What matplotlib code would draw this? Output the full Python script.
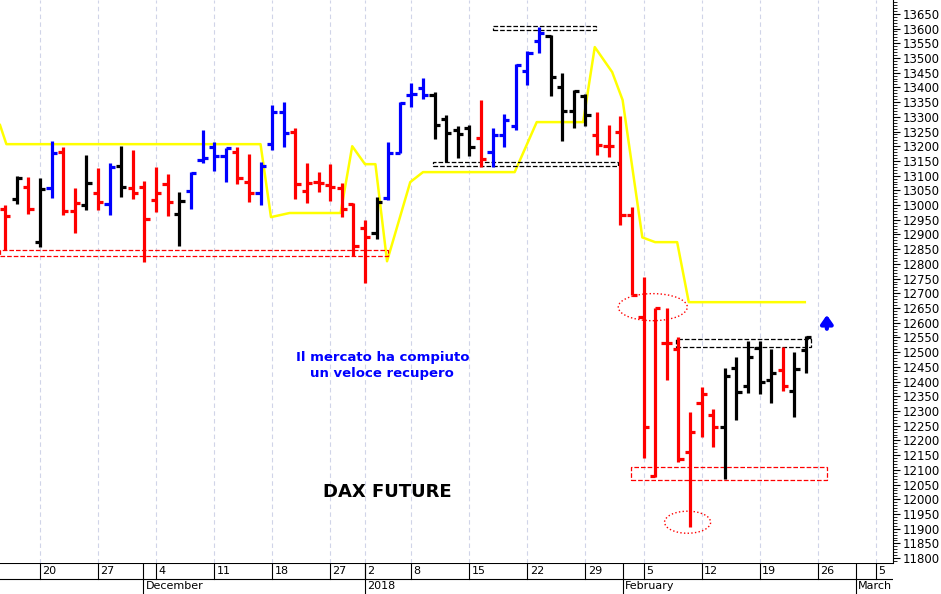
import matplotlib.pyplot as plt
from matplotlib.patches import Rectangle, Ellipse
from matplotlib.ticker import MultipleLocator

# OHLC data, one bar per trading day; index 0 = 20 Nov 2017
start_idx = -3
opens = [12986, 13020, 13061, 12874, 13058, 13180, 12979, 13000, 13041, 13003,
         13132, 13058, 13061, 13017, 13071, 12969, 13047, 13153, 13197, 13166,
         13180, 13078, 13041, 13207, 13316, 13248, 13047, 13078, 13068, 13058,
         13003, 12922, 12904, 13024, 13176, 13374, 13398, 13374, 13292, 13255,
         13262, 13228, 13180, 13238, 13268, 13456, 13558, 13575, 13401, 13319,
         13370, 13238, 13200, 13248, 12966, 12619, 12078, 12531, 12510, 12160,
         12326, 12286, 12245, 12446, 12384, 12514, 12405, 12439, 12367, 12507]
highs = [13000, 13098, 13095, 13092, 13217, 13197, 13058, 13170, 13125, 13142,
         13200, 13187, 13081, 13129, 13105, 13044, 13112, 13255, 13214, 13193,
         13197, 13173, 13146, 13340, 13350, 13262, 13142, 13112, 13139, 13075,
         13006, 12949, 13027, 13214, 13350, 13415, 13432, 13384, 13306, 13268,
         13272, 13357, 13262, 13309, 13480, 13524, 13605, 13578, 13449, 13391,
         13377, 13316, 13272, 13302, 12993, 12755, 12649, 12649, 12551, 12296,
         12381, 12306, 12446, 12483, 12537, 12537, 12510, 12517, 12500, 12554]
lows = [12847, 13003, 12969, 12857, 13024, 12966, 12904, 12983, 12983, 12966,
        13027, 13020, 12807, 12976, 12962, 12860, 12986, 13142, 13115, 13078,
        13071, 13010, 13000, 13187, 13197, 13020, 13006, 13044, 13013, 12959,
        12826, 12734, 12884, 13017, 13176, 13333, 13360, 13224, 13146, 13159,
        13166, 13129, 13129, 13197, 13255, 13408, 13517, 13370, 13217, 13262,
        13268, 13170, 13163, 12932, 12694, 12140, 12075, 12405, 12126, 11905,
        12211, 12177, 12068, 12269, 12360, 12357, 12326, 12367, 12279, 12429]
closes = [12962, 13092, 12986, 13054, 13176, 12979, 13007, 13075, 13010, 13129,
          13061, 13041, 12952, 13041, 13010, 13013, 13108, 13160, 13166, 13193,
          13092, 13041, 13132, 13316, 13245, 13071, 13075, 13075, 13061, 12986,
          12860, 12891, 13010, 13176, 13347, 13378, 13374, 13272, 13245, 13241,
          13197, 13156, 13238, 13289, 13476, 13517, 13584, 13435, 13319, 13387,
          13306, 13204, 13200, 12966, 12694, 12245, 12649, 12531, 12136, 12228,
          12357, 12245, 12418, 12364, 12483, 12398, 12429, 12384, 12442, 12551]
colors = "rkrkbrrkrbkrrrrkbbbbrrbbbrrrrrrrkbbbbkkkkrbbbbbkkkkrrrrrrrrrrrkkkkkrkk"

# yellow stop line
stop_x = [-3.45, -2.9, 19.0, 19.9, 21.5, 25.9, 26.9, 28.0, 28.9, 29.9, 31.9, 33.0,
          40.9, 42.8, 46.8, 47.8, 49.3, 50.2, 51.9, 53.0, 54.9, 55.9, 65.9]
stop_y = [13272, 13207, 13207, 12959, 12973, 12973, 13200, 13139, 13139, 12809,
          13078, 13112, 13112, 13282, 13282, 13537, 13452, 13357, 12890, 12874,
          12874, 12670, 12670]

week_idx = [0, 5, 10, 15, 20, 25, 28, 32, 37, 42, 47, 52, 57, 62, 67, 72]
week_lbl = ["20", "27", "4", "11", "18", "27", "2", "8", "15", "22", "29",
            "5", "12", "19", "26", "5"]
month_idx = [8.9, 28, 50.2, 70.3]
month_lbl = ["December", "2018", "February", "March"]

cmap = {"r": "#ff0000", "k": "#000000", "b": "#0000ff"}

fig = plt.figure(figsize=(9.41, 5.94), dpi=100)
ax = fig.add_axes([0, 0.052, 0.949, 0.948])
ax.set_xlim(-3.45, 73.5)
ax.set_ylim(11783, 13697)

for x in week_idx:
    ax.axvline(x, color="#d0d4e8", lw=0.8, ls=(0, (4, 3)), zorder=0)

for i in range(len(opens)):
    x = start_idx + i
    c = cmap[colors[i]]
    ax.plot([x, x], [lows[i], highs[i]], color=c, lw=2.3, solid_capstyle="butt")
    ax.plot([x - 0.45, x], [opens[i], opens[i]], color=c, lw=2.3, solid_capstyle="butt")
    ax.plot([x, x + 0.45], [closes[i], closes[i]], color=c, lw=2.3, solid_capstyle="butt")

ax.plot(stop_x, stop_y, color="#ffff00", lw=1.8, zorder=1)

# dashed boxes and circles
ax.add_patch(Rectangle((-3.45, 12826), 33.45, 21, fill=False, ec="red", ls="--", lw=0.9))
ax.add_patch(Rectangle((39.0, 13596), 8.9, 14, fill=False, ec="black", ls="--", lw=0.9))
ax.add_patch(Rectangle((33.9, 13132), 15.9, 14, fill=False, ec="black", ls="--", lw=0.9))
ax.add_patch(Rectangle((54.8, 12517), 11.6, 27, fill=False, ec="black", ls="--", lw=0.9))
ax.add_patch(Rectangle((50.9, 12064), 16.9, 44, fill=False, ec="red", ls="--", lw=0.9))
ax.add_patch(Ellipse((52.8, 12653), 5.95, 92, fill=False, ec="red", ls=":", lw=1.0))
ax.add_patch(Ellipse((55.8, 11922), 3.97, 75, fill=False, ec="red", ls=":", lw=1.0))
ax.annotate("", xy=(67.8, 12636), xytext=(67.8, 12570),
            arrowprops=dict(arrowstyle="-|>,head_width=0.35,head_length=0.5",
                            color="#0000ff", lw=3))

ax.text(29.5, 12482, "Il mercato ha compiuto", color="#0000ff", fontsize=9.5,
        fontweight="bold", ha="center", va="center")
ax.text(29.5, 12428, "un veloce recupero", color="#0000ff", fontsize=9.5,
        fontweight="bold", ha="center", va="center")
ax.text(29.9, 12024, "DAX FUTURE", color="black", fontsize=13,
        fontweight="bold", ha="center", va="center")

ax.yaxis.tick_right()
ax.yaxis.set_major_locator(MultipleLocator(50))
ax.yaxis.set_minor_locator(MultipleLocator(10))
ax.tick_params(axis="y", which="major", length=5, labelsize=8.5, pad=2)
ax.tick_params(axis="y", which="minor", length=3)
ax.set_xticks([])
for s in ["top", "left", "bottom"]:
    ax.spines[s].set_visible(False)

# date strip
ax2 = fig.add_axes([0, 0, 0.949, 0.052])
ax2.set_xlim(ax.get_xlim())
ax2.set_ylim(0, 2)
ax2.axhline(2, color="black", lw=1.5)
ax2.axhline(1, color="black", lw=0.8)
for x, t in zip(week_idx, week_lbl):
    ax2.plot([x, x], [1, 2], color="black", lw=0.8)
    ax2.text(x + 0.2, 1.5, t, fontsize=8, va="center", ha="left")
for x, t in zip(month_idx, month_lbl):
    ax2.plot([x, x], [0, 2], color="black", lw=0.8)
    ax2.text(x + 0.2, 0.5, t, fontsize=8, va="center", ha="left")
ax2.axis("off")

fig.savefig("out.png", dpi=100)
